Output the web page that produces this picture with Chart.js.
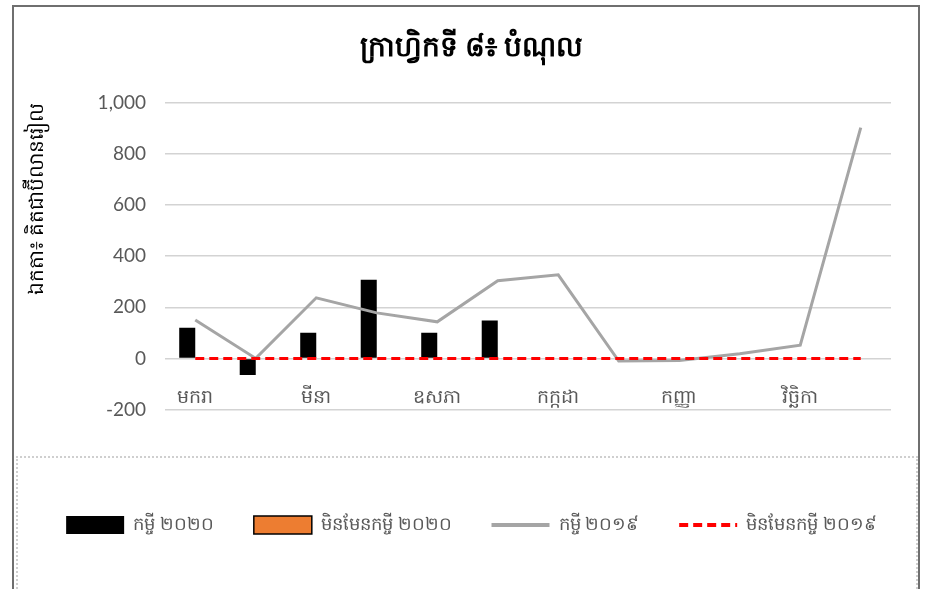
<!DOCTYPE html>
<html>
<head>
<meta charset="utf-8">
<script src="https://cdn.jsdelivr.net/npm/chart.js@4.4.1/dist/chart.umd.min.js"></script>
<style>
  html, body { margin: 0; padding: 0; background: #fff; }
  #wrap { position: relative; width: 925px; height: 589px; overflow: hidden; }
  #frame { position: absolute; left: 12px; top: 5px; width: 904px; height: 620px; border: 2px solid #6f6f6f; }
  #legendFrame { position: absolute; left: 16px; top: 456px; width: 898px; height: 200px; border: 2px dotted #cfcfcf; }
  canvas { position: absolute; left: 0; top: 0; }
</style>
</head>
<body>
<div id="wrap">
  <div id="frame"></div>
  <div id="legendFrame"></div>
  <canvas id="chartCanvas" width="925" height="589"></canvas>
</div>
<script>
// ខែ
const months = ['មករា', 'កុម្ភៈ', 'មីនា', 'មេសា', 'ឧសភា', 'មិថុនា', 'កក្កដា', 'សីហា', 'កញ្ញា', 'តុលា', 'វិច្ឆិកា', 'ធ្នូ'];

const debt2020 = [120, -65, 100, 308, 100, 148, null, null, null, null, null, null];
const forecast2020 = [null, null, null, null, null, null, null, null, null, null, null, null];
const debt2019 = [150, 0, 237, 178, 143, 304, 327, -10, -8, 18, 52, 902];
const forecast2019 = [0, 0, 0, 0, 0, 0, 0, 0, 0, 0, 0, 0];

const yTicks = { min: -200, max: 1000, step: 200 };

const chartTitle = 'ក្រាហ្វិកទី ៨៖ បំណុល';
const yTitle = 'ឯកតា៖ គិតជាប៊ីលានរៀល';
const seriesNames = ['កម្ចី ២០២០', 'មិនមែនកម្ចី ២០២០', 'កម្ចី ២០១៩', 'មិនមែនកម្ចី ២០១៩'];

const khFont = "'Noto Sans', 'DejaVu Sans', sans-serif";
const numFont = "Lato, 'Open Sans', sans-serif";
const grey = '#595959';

const ctx = document.getElementById('chartCanvas').getContext('2d');

new Chart(ctx, {
    data: {
        labels: months,
        datasets: [
            {
                type: 'bar',
                label: seriesNames[0],
                data: debt2020,
                backgroundColor: '#000000',
                categoryPercentage: 0.53,
                barPercentage: 1,
                order: 2
            },
            {
                type: 'bar',
                label: seriesNames[1],
                data: forecast2020,
                backgroundColor: '#ed7d31',
                borderColor: '#000000',
                categoryPercentage: 0.53,
                barPercentage: 1,
                order: 2
            },
            {
                type: 'line',
                label: seriesNames[2],
                data: debt2019,
                borderColor: '#a5a5a5',
                borderWidth: 3,
                pointRadius: 0,
                tension: 0,
                order: 1
            },
            {
                type: 'line',
                label: seriesNames[3],
                data: forecast2019,
                borderColor: '#ff0000',
                borderWidth: 3,
                borderDash: [9, 5],
                pointRadius: 0,
                tension: 0,
                order: 0
            }
        ]
    },
    options: {
        responsive: false,
        animation: false,
        layout: { padding: { left: 18, right: 0, top: 20, bottom: 45 } },
        plugins: {
            title: {
                display: true,
                text: chartTitle,
                color: '#000',
                font: { family: khFont, size: 28, weight: 'bold' },
                padding: { top: 11, bottom: 38 }
            },
            legend: {
                position: 'bottom',
                title: { display: true, text: '', font: { size: 12 }, padding: { top: 52, bottom: 0 } },
                labels: {
                    color: grey,
                    font: { family: khFont, size: 18 },
                    usePointStyle: true,
                    pointStyleWidth: 58,
                    boxHeight: 18,
                    padding: 40,
                    generateLabels: (chart) => chart.data.datasets.map((ds, i) => {
                        const isBar = ds.type === 'bar';
                        return {
                            text: ds.label,
                            datasetIndex: i,
                            pointStyle: isBar ? 'rect' : 'line',
                            fillStyle: isBar ? ds.backgroundColor : ds.borderColor,
                            strokeStyle: isBar ? '#000000' : ds.borderColor,
                            lineWidth: isBar ? (i === 1 ? 1.5 : 0) : 4,
                            lineDash: ds.borderDash || [],
                            fontColor: grey
                        };
                    })
                }
            },
            tooltip: { enabled: false }
        },
        scales: {
            x: {
                position: { y: 0 },
                grid: { display: false, drawTicks: false },
                border: { display: false },
                ticks: {
                    color: grey,
                    font: { family: khFont, size: 19 },
                    padding: 28,
                    autoSkip: false,
                    maxRotation: 0,
                    callback: function (val, i) {
                        return i % 2 === 0 ? this.getLabelForValue(val) : '';
                    }
                }
            },
            y: {
                min: yTicks.min,
                max: yTicks.max,
                afterFit: (scale) => { scale.width = 147; },
                grid: { color: '#d3d3d3', lineWidth: 1.5, drawTicks: false },
                border: { display: false },
                ticks: {
                    stepSize: yTicks.step,
                    color: grey,
                    font: { family: numFont, size: 19 },
                    padding: 19
                },
                title: {
                    display: true,
                    text: yTitle,
                    align: 'end',
                    color: '#000',
                    font: { family: khFont, size: 20 },
                    padding: { top: 7, bottom: 0 }
                }
            },
            // right-hand spacer so the plot ends where the original does
            yRight: {
                type: 'linear',
                position: 'right',
                afterFit: (scale) => { scale.width = 34; },
                grid: { display: false },
                border: { display: false },
                ticks: { display: false }
            }
        }
    }
});
</script>
</body>
</html>
